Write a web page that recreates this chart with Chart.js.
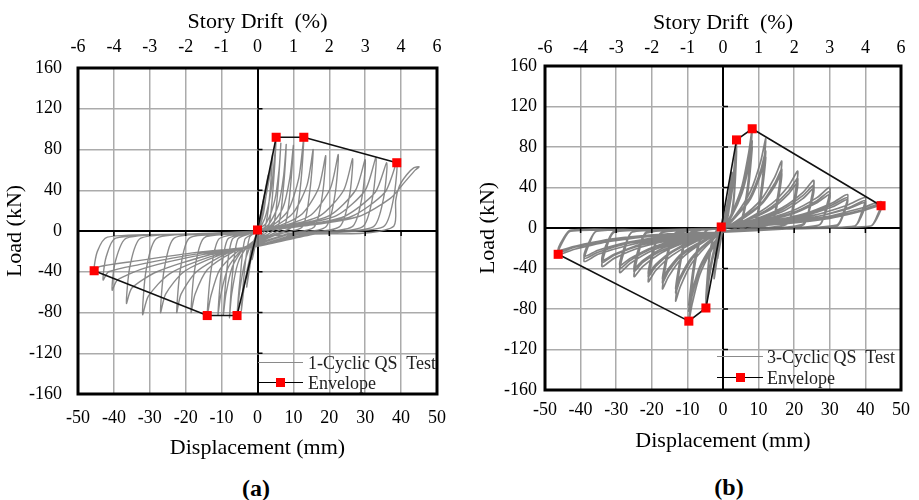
<!DOCTYPE html>
<html><head><meta charset="utf-8">
<script src="https://cdn.jsdelivr.net/npm/chart.js@4.4.0/dist/chart.umd.min.js"></script>
<style>
html,body{margin:0;padding:0;background:#fff;width:919px;height:500px;overflow:hidden;position:relative;}
canvas{position:absolute;top:0;}
#ca{left:0;} #cb{left:459px;}
.cap{position:absolute;font-family:'Liberation Serif',serif;font-weight:bold;font-size:24px;line-height:28px;color:#000;transform:translateX(-50%);}
.lt{position:absolute;font-family:'Liberation Serif',serif;font-size:18px;line-height:20px;color:#222;white-space:pre;}
.ll{position:absolute;height:0;}
.sq{position:absolute;width:9px;height:9px;background:#ff0000;}
</style></head>
<body>
<canvas id="ca" width="459" height="465"></canvas>
<canvas id="cb" width="460" height="465"></canvas>
<div class="cap" style="left:256px;top:474px;">(a)</div>
<div class="cap" style="left:729px;top:473px;">(b)</div>
<!-- legend a -->
<div class="ll" style="left:258px;top:362px;width:45px;border-top:1.5px solid #8a8a8a;"></div>
<div class="lt" style="left:308px;top:353px;">1-Cyclic QS  Test</div>
<div class="ll" style="left:258px;top:382px;width:45px;border-top:1.5px solid #000;"></div>
<div class="sq" style="left:276px;top:378px;"></div>
<div class="lt" style="left:308px;top:373px;">Envelope</div>
<!-- legend b -->
<div class="ll" style="left:717px;top:356px;width:46px;border-top:1.5px solid #8a8a8a;"></div>
<div class="lt" style="left:767px;top:347px;">3-Cyclic QS  Test</div>
<div class="ll" style="left:717px;top:377px;width:46px;border-top:1.5px solid #000;"></div>
<div class="sq" style="left:736px;top:373px;"></div>
<div class="lt" style="left:767px;top:368px;">Envelope</div>
<script>
// ---- tick labels ----
const driftLabels = ['-6','-4','-3','-2','-1','0','1','2','3','4','6'];
const dispMin = -50, dispMax = 50, dispStep = 10;
const loadMin = -160, loadMax = 160, loadStep = 40;

// ---- envelope series ----
const envA_disp = [-45.5, -14, -5.7, 0, 5.2, 12.9, 38.8];
const envA_load = [-39, -83, -83, 1, 92, 92, 67];
const envB_disp = [-46.3, -9.6, -4.8, -0.5, 3.8, 8.2, 44.4];
const envB_load = [-26, -92, -79, 1, 87, 98, 22];

// ---- 1-Cyclic QS test trace (displacement mm, load kN) ----
const cyclicA = [
[0,0],[1.5,28],[0.3,3],[-1.5,-28],[0,0],
[3,55],[1.8,20],[0.5,2],[-1.2,-15],[-3,-55],[-1.8,-18],[0,0],
[1.5,20],[3.2,50],[4.2,75],[3.4,35],[2.2,5],[0,-6],[-2,-25],[-3.6,-52],[-4.5,-78],[-3.6,-38],[-2.2,-6],[0,0],
[2,12],[3.8,40],[4.7,70],[5.2,91],[4.4,45],[3.2,6],[1,-4],[-1.5,-12],[-3.5,-30],[-5,-60],[-5.7,-84],[-4.8,-45],[-3.5,-8],[-1,-2],[0,1],
[2.5,8],[4.8,30],[6,60],[6.5,86],[5.7,42],[4.5,6],[2,-3],[0,-7],[-3,-16],[-5.5,-32],[-7.2,-62],[-7.8,-85],[-6.9,-40],[-5.5,-8],[-2.5,-3],[0,0],
[3,6],[5.8,25],[7.3,55],[8,85],[7.2,42],[5.8,5],[3,-3],[0,-8],[-4,-18],[-7,-35],[-8.8,-62],[-9.5,-82],[-8.6,-40],[-7,-8],[-3.5,-3],[0,0],
[3.5,5],[7,22],[9,52],[10,84],[9.1,40],[7.6,5],[4,-3],[0,-9],[-4.5,-19],[-8.2,-36],[-10.2,-62],[-11,-82],[-10.1,-40],[-8.3,-8],[-4,-3],[0,0],
[4,5],[8.5,20],[11.5,52],[12.9,92],[12,45],[10,5],[5,-3],[0,-10],[-5.5,-20],[-10.5,-38],[-13,-64],[-14,-83],[-13,-40],[-10.8,-8],[-5,-3],[0,0],
[5,5],[10,18],[13.8,45],[15.5,80],[14.6,40],[12.5,4],[6,-3],[0,-11],[-7,-21],[-14,-38],[-17.4,-62],[-18.5,-80],[-17.6,-40],[-15,-7],[-7,-3],[0,0],
[6,5],[12.5,17],[17,42],[19,74],[18.1,36],[15.8,4],[8,-3],[0,-12],[-8.5,-22],[-17,-40],[-21.3,-62],[-22.5,-80],[-21.5,-38],[-19,-7],[-9,-3],[0,0],
[7,5],[15,16],[20.3,42],[22.5,75],[21.6,36],[19,4],[9,-3],[0,-13],[-10,-23],[-20.5,-40],[-25.6,-62],[-27,-80],[-26,-38],[-23.2,-7],[-11,-3],[0,0],
[8,5],[17.5,15],[24,40],[26.5,71],[25.6,34],[22.8,4],[11,-3],[0,-14],[-12,-24],[-24.5,-42],[-30.4,-64],[-32,-82],[-31,-38],[-28,-7],[-13,-3],[0,0],
[9,5],[20,15],[27.3,40],[30,70],[29.1,33],[26.3,4],[12,-3],[0,-15],[-14,-24],[-28,-40],[-35,-56],[-36.5,-71],[-35.5,-34],[-32.5,-7],[-15,-3],[0,0],
[10,5],[22,15],[30,40],[33,72],[32.1,34],[29.2,4],[14,-3],[0,-15],[-15,-23],[-31,-36],[-39,-48],[-40.5,-58],[-39.6,-30],[-36.5,-7],[-17,-3],[0,0],
[11,5],[24,14],[32.8,38],[36,67],[35.1,32],[32.2,4],[15,-3],[0,-15],[-16,-22],[-33,-33],[-41.5,-40],[-43,-48],[-42.2,-26],[-39.5,-7],[-18,-3],[0,0],
[12,5],[26,14],[35.5,38],[38.8,67],[37.9,32],[35,4],[16,-3],[0,-15],[-17,-21],[-35,-30],[-44,-35],[-45.5,-39],[-44.6,-20],[-41.8,-6],[-19,-3],[0,0],
[13,5],[28,14],[37,32],[41,48],[44,60],[45,63],[43.5,62],[41.5,55],[39.5,44],[38.5,30],[38,5],[30,-2],[15,-3],[0,-5]
];

// ---- 3-Cyclic QS test trace (displacement mm, load kN) ----
const cyclicB = [
[0,0],[1.5,30],[0,2],[-1.5,-30],[0,0],[1.5,28],[0,1],[-1.5,-28],[0,0],[1.5,27],[0,1],[-1.5,-27],[0,0],
[1.2,22],[2.5,55],[1.5,15],[0,-2],[-1.2,-20],[-2.5,-50],[-1.5,-12],[0,0],
[1.2,20],[2.5,52],[1.5,14],[0,-2],[-1.2,-19],[-2.5,-48],[-1.5,-11],[0,0],
[1.2,19],[2.5,50],[1.5,13],[0,-2],[-1.2,-18],[-2.5,-46],[-1.5,-10],[0,0],
[1.5,18],[3,55],[3.8,87],[3,30],[1.5,2],[0,-4],[-2,-18],[-3.8,-48],[-4.8,-79],[-3.8,-30],[-2,-3],[0,0],
[1.5,16],[3,50],[3.8,80],[3,27],[1.5,2],[0,-4],[-2,-16],[-3.8,-45],[-4.8,-74],[-3.8,-28],[-2,-3],[0,0],
[1.5,15],[3,47],[3.8,76],[3,25],[1.5,2],[0,-4],[-2,-15],[-3.8,-42],[-4.8,-70],[-3.8,-26],[-2,-3],[0,0],
[2.5,15],[5.3,41],[7.2,74],[8.2,98],[7,44],[5.2,8],[3.3,-1],[0,-4],[-3.4,-23],[-6.5,-46],[-8.6,-74],[-9.6,-92],[-8.1,-41],[-6.1,-9],[-4.3,-2],[0,0],
[2.5,13],[5.3,36],[7.2,65],[8.2,86],[7,39],[5.2,7],[3.3,-1],[0,-4],[-3.4,-21],[-6.5,-41],[-8.6,-66],[-9.6,-82],[-8.1,-37],[-6.1,-8],[-4.3,-2],[0,0],
[2.5,12],[5.3,34],[7.2,60],[8.2,80],[7,36],[5.2,6],[3.3,-1],[0,-4],[-3.4,-19],[-6.5,-38],[-8.6,-61],[-9.6,-76],[-8.1,-34],[-6.1,-8],[-4.3,-2],[0,0],
[3.6,13],[7.8,37],[10.6,66],[12,88],[10.8,40],[9,7],[4.8,-1],[0,-4],[-4.7,-18],[-9,-36],[-12,-58],[-13.3,-72],[-11.8,-32],[-9.8,-7],[-6,-2],[0,0],
[3.6,11],[7.8,32],[10.6,57],[12,76],[10.8,34],[9,6],[4.8,-1],[0,-4],[-4.7,-16],[-9,-32],[-12,-51],[-13.3,-64],[-11.8,-29],[-9.8,-6],[-6,-2],[0,0],
[3.6,11],[7.8,29],[10.6,53],[12,70],[10.8,32],[9,6],[4.8,-1],[0,-4],[-4.7,-15],[-9,-30],[-12,-48],[-13.3,-60],[-11.8,-27],[-9.8,-6],[-6,-2],[0,0],
[5,10],[10.7,28],[14.5,50],[16.5,66],[15.3,30],[13.5,5],[6.6,-1],[0,-4],[-6,-15],[-11.6,-30],[-15.3,-48],[-17,-60],[-15.5,-27],[-13.5,-6],[-7.7,-2],[0,0],
[5,9],[10.7,24],[14.5,44],[16.5,58],[15.3,26],[13.5,5],[6.6,-1],[0,-4],[-6,-14],[-11.6,-27],[-15.3,-43],[-17,-54],[-15.5,-24],[-13.5,-5],[-7.7,-2],[0,0],
[5,8],[10.7,23],[14.5,41],[16.5,54],[15.3,24],[13.5,4],[6.6,-1],[0,-4],[-6,-13],[-11.6,-25],[-15.3,-40],[-17,-50],[-15.5,-23],[-13.5,-5],[-7.7,-2],[0,0],
[6.3,8],[13.7,24],[18.5,42],[21,56],[19.8,25],[18,4],[8.4,-1],[0,-4],[-7.4,-13],[-14.3,-27],[-18.9,-42],[-21,-53],[-19.5,-24],[-17.5,-5],[-9.5,-2],[0,0],
[6.3,7],[13.7,21],[18.5,37],[21,49],[19.8,22],[18,4],[8.4,-1],[0,-4],[-7.4,-12],[-14.3,-24],[-18.9,-38],[-21,-48],[-19.5,-22],[-17.5,-5],[-9.5,-2],[0,0],
[6.3,7],[13.7,19],[18.5,34],[21,45],[19.8,20],[18,4],[8.4,-1],[0,-4],[-7.4,-11],[-14.3,-23],[-18.9,-36],[-21,-45],[-19.5,-20],[-17.5,-5],[-9.5,-2],[0,0],
[7.7,7],[16.6,20],[22.4,35],[25.5,47],[24.3,21],[22.5,4],[10.2,-1],[0,-4],[-8.8,-12],[-17,-24],[-22.5,-38],[-25,-48],[-23.5,-22],[-21.5,-5],[-11.3,-2],[0,0],
[7.7,6],[16.6,18],[22.4,32],[25.5,42],[24.3,19],[22.5,3],[10.2,-1],[0,-4],[-8.8,-11],[-17,-22],[-22.5,-34],[-25,-43],[-23.5,-19],[-21.5,-4],[-11.3,-2],[0,0],
[7.7,6],[16.6,16],[22.4,29],[25.5,39],[24.3,18],[22.5,3],[10.2,-1],[0,-4],[-8.8,-10],[-17,-20],[-22.5,-32],[-25,-40],[-23.5,-18],[-21.5,-4],[-11.3,-2],[0,0],
[9,6],[19.5,17],[26.4,30],[30,40],[28.8,18],[27,3],[12,-1],[0,-4],[-10.2,-11],[-19.7,-22],[-26.1,-35],[-29,-44],[-27.5,-20],[-25.5,-4],[-13,-2],[0,0],
[9,5],[19.5,15],[26.4,27],[30,36],[28.8,16],[27,3],[12,-1],[0,-4],[-10.2,-10],[-19.7,-20],[-26.1,-32],[-29,-40],[-27.5,-18],[-25.5,-4],[-13,-2],[0,0],
[9,5],[19.5,14],[26.4,25],[30,33],[28.8,15],[27,3],[12,-1],[0,-4],[-10.2,-9],[-19.7,-19],[-26.1,-30],[-29,-37],[-27.5,-17],[-25.5,-4],[-13,-2],[0,0],
[10.5,5],[22.8,14],[30.8,25],[35,33],[33.8,15],[32,3],[14,-1],[0,-4],[-11.9,-10],[-23.1,-19],[-30.6,-30],[-34,-38],[-32.5,-17],[-30.5,-4],[-15.3,-2],[0,0],
[10.5,5],[22.8,13],[30.8,23],[35,30],[33.8,14],[32,2],[14,-1],[0,-4],[-11.9,-9],[-23.1,-17],[-30.6,-27],[-34,-34],[-32.5,-15],[-30.5,-3],[-15.3,-2],[0,0],
[10.5,4],[22.8,12],[30.8,21],[35,28],[33.8,13],[32,2],[14,-1],[0,-4],[-11.9,-8],[-23.1,-16],[-30.6,-26],[-34,-32],[-32.5,-14],[-30.5,-3],[-15.3,-2],[0,0],
[12,5],[26,13],[35.2,23],[40,30],[38.8,14],[37,2],[16,-1],[0,-4],[-13.7,-8],[-26.5,-17],[-35.1,-26],[-39,-33],[-37.5,-15],[-35.5,-3],[-17.6,-2],[0,0],
[12,4],[26,11],[35.2,20],[40,27],[38.8,12],[37,2],[16,-1],[0,-4],[-13.7,-8],[-26.5,-15],[-35.1,-24],[-39,-30],[-37.5,-14],[-35.5,-3],[-17.6,-2],[0,0],
[12,4],[26,11],[35.2,19],[40,25],[38.8,11],[37,2],[16,-1],[0,-4],[-13.7,-7],[-26.5,-14],[-35.1,-22],[-39,-28],[-37.5,-13],[-35.5,-3],[-17.6,-2],[0,0],
[13.4,4],[28.9,11],[39.2,20],[44.5,26],[43.3,12],[41.5,2],[17.8,-1],[0,-4],[-16.2,-7],[-31.5,-13],[-41.7,-21],[-46.3,-26],[-44.8,-12],[-42.8,-3],[-20.8,-2],[0,0],
[13.4,4],[28.9,10],[39.2,18],[44.5,24],[43.3,11],[41.5,2],[17.8,-1],[0,-4],[-16.2,-6],[-31.5,-12],[-41.7,-19],[-46.3,-24],[-44.8,-11],[-42.8,-2],[-20.8,-2],[0,0],
[13.4,3],[28.9,9],[39.2,17],[44.5,22],[43.3,10],[41.5,2],[17.8,-1],[0,-4],[-16.2,-6],[-31.5,-11],[-41.7,-18],[-46.3,-22],[-44.8,-10],[-42.8,-2],[-20.8,-2],[0,0]
];

const FONT = "'Liberation Serif', 'Times New Roman', serif";
const GRID = '#ababab';

const framePlugin = {
  id: 'frame',
  afterDatasetsDraw(chart) {
    const {ctx, chartArea: a, scales} = chart;
    ctx.save();
    ctx.strokeStyle = '#000';
    ctx.lineWidth = 1.5;
    const x0 = scales.x.getPixelForValue(0), y0 = scales.y.getPixelForValue(0);
    scales.y.ticks.forEach(t => {
      if (t.value === 0 || Math.abs(t.value) === loadMax) return;
      const py = scales.y.getPixelForValue(t.value);
      ctx.beginPath(); ctx.moveTo(x0, py); ctx.lineTo(x0 + 5, py); ctx.stroke();
    });
    scales.x.ticks.forEach(t => {
      if (t.value === 0 || Math.abs(t.value) === dispMax) return;
      const px = scales.x.getPixelForValue(t.value);
      ctx.beginPath(); ctx.moveTo(px, y0); ctx.lineTo(px, y0 + 5); ctx.stroke();
    });
    ctx.lineWidth = 3;
    ctx.strokeRect(a.left, a.top, a.width, a.height);
    ctx.restore();
  }
};

function makeChart(id, cyc, envX, envY, g) {
  const envPts = envX.map((x, i) => ({x, y: envY[i]}));
  const cycPts = cyc.map(p => ({x: p[0], y: p[1]}));
  return new Chart(document.getElementById(id), {
    type: 'scatter',
    data: {
      datasets: [
        {data: envPts, showLine: true, borderColor: '#111', borderWidth: 1.6,
         pointStyle: 'rect', pointRadius: 6.4, pointBackgroundColor: '#ff0000',
         pointBorderWidth: 0, tension: 0},
        {data: cycPts, showLine: true, borderColor: g.cycColor, borderWidth: g.cycWidth,
         pointRadius: 0, tension: 0.25}
      ]
    },
    options: {
      responsive: false, animation: false, events: [],
      layout: {padding: {left: 0, right: g.padR, top: 0, bottom: 0}},
      plugins: {legend: {display: false}, tooltip: {enabled: false}},
      scales: {
        x: {
          type: 'linear', position: 'bottom', min: dispMin, max: dispMax,
          afterFit: s => { s.height = g.bottomH; },
          ticks: {stepSize: dispStep, padding: g.xPad, color: '#000', font: {family: FONT, size: 18}, maxRotation: 0},
          grid: {drawTicks: false, color: c => c.tick && c.tick.value === 0 ? '#000' : GRID,
                 lineWidth: c => c.tick && c.tick.value === 0 ? 2 : 1.5},
          border: {display: false},
          title: {display: true, text: 'Displacement (mm)', color: '#000',
                  font: {family: FONT, size: 22}, padding: {top: 0, bottom: g.xTitlePad}}
        },
        x2: {
          type: 'linear', position: 'top', min: dispMin, max: dispMax,
          afterFit: s => { s.height = g.topH; },
          ticks: {stepSize: dispStep, padding: g.x2Pad, color: '#000', font: {family: FONT, size: 18}, maxRotation: 0,
                  callback: v => driftLabels[Math.round((v - dispMin) / dispStep)]},
          grid: {display: false, drawTicks: false},
          border: {display: false},
          title: {display: true, text: 'Story Drift  (%)', color: '#000',
                  font: {family: FONT, size: 22}, padding: {top: g.x2TitlePad, bottom: 0}}
        },
        y: {
          type: 'linear', position: 'left', min: loadMin, max: loadMax,
          afterFit: s => { s.width = g.leftW; },
          ticks: {stepSize: loadStep, padding: g.yPad, color: '#000', font: {family: FONT, size: 18}},
          grid: {drawTicks: false, color: c => c.tick && c.tick.value === 0 ? '#000' : GRID,
                 lineWidth: c => c.tick && c.tick.value === 0 ? 2 : 1.5},
          border: {display: false},
          title: {display: true, text: 'Load (kN)', color: '#000',
                  font: {family: FONT, size: 22}, padding: {top: g.yTitlePad, bottom: 0}}
        }
      }
    },
    plugins: [framePlugin]
  });
}

makeChart('ca', cyclicA, envA_disp, envA_load,
  {padR: 21, bottomH: 71, topH: 68, leftW: 78, xPad: 13, x2Pad: 10, yPad: 16,
   xTitlePad: 4, x2TitlePad: 9, yTitlePad: 2, cycColor: 'rgba(125,125,125,0.9)', cycWidth: 1.4});
makeChart('cb', cyclicB, envB_disp, envB_load,
  {padR: 15, bottomH: 75, topH: 66, leftW: 86, xPad: 9, x2Pad: 7, yPad: 8,
   xTitlePad: 11, x2TitlePad: 10, yTitlePad: 16, cycColor: 'rgba(118,118,118,0.9)', cycWidth: 1.7});
</script>
</body></html>
